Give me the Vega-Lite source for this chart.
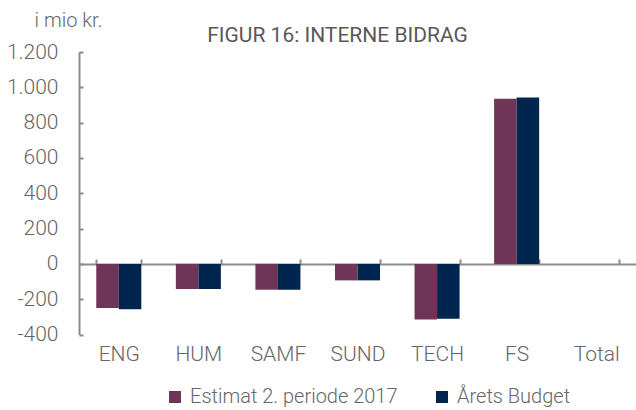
{
  "$schema": "https://vega.github.io/schema/vega-lite/v6.json",
  "autosize": "none",
  "width": 557,
  "height": 282.6,
  "padding": {"left": 79, "top": 52, "right": 0, "bottom": 75.4},
  "background": "white",
  "config": {
    "locale": {"number": {"decimal": ",", "thousands": ".", "grouping": [3], "currency": ["", " kr."], "minus": "-"}},
    "font": "Roboto",
    "view": {"stroke": null}
  },
  "title": {
    "text": "FIGUR 16: INTERNE BIDRAG",
    "font": "Roboto",
    "fontSize": 21,
    "fontWeight": 400,
    "color": "#595959",
    "anchor": "middle",
    "dx": -20,
    "offset": -36
  },
  "data": {
    "values": [
      {"enhed": "ENG", "serie": "Estimat 2. periode 2017", "vaerdi": -250},
      {"enhed": "ENG", "serie": "Årets Budget", "vaerdi": -257},
      {"enhed": "HUM", "serie": "Estimat 2. periode 2017", "vaerdi": -142},
      {"enhed": "HUM", "serie": "Årets Budget", "vaerdi": -142},
      {"enhed": "SAMF", "serie": "Estimat 2. periode 2017", "vaerdi": -146},
      {"enhed": "SAMF", "serie": "Årets Budget", "vaerdi": -146},
      {"enhed": "SUND", "serie": "Estimat 2. periode 2017", "vaerdi": -93},
      {"enhed": "SUND", "serie": "Årets Budget", "vaerdi": -93},
      {"enhed": "TECH", "serie": "Estimat 2. periode 2017", "vaerdi": -315},
      {"enhed": "TECH", "serie": "Årets Budget", "vaerdi": -310},
      {"enhed": "FS", "serie": "Estimat 2. periode 2017", "vaerdi": 936},
      {"enhed": "FS", "serie": "Årets Budget", "vaerdi": 943}
    ]
  },
  "mark": {"type": "bar"},
  "encoding": {
    "x": {
      "field": "enhed",
      "type": "nominal",
      "sort": null,
      "scale": {"domain": ["ENG", "HUM", "SAMF", "SUND", "TECH", "FS", "Total"], "paddingInner": 0.434, "paddingOuter": 0.217},
      "axis": {
        "title": null,
        "labelAngle": 0,
        "orient": "bottom",
        "offset": -70.6,
        "domainColor": "#8c8c8c",
        "domainWidth": 2,
        "tickColor": "#8c8c8c",
        "tickWidth": 2,
        "tickSize": -5,
        "tickBand": "extent",
        "labelPadding": 84,
        "labelFont": "Roboto",
        "labelFontSize": 21,
        "labelColor": "#666666",
        "labelFontWeight": 300
      }
    },
    "xOffset": {
      "field": "serie",
      "type": "nominal",
      "sort": ["Estimat 2. periode 2017", "Årets Budget"],
      "scale": {"paddingInner": 0, "paddingOuter": 0}
    },
    "y": {
      "field": "vaerdi",
      "type": "quantitative",
      "scale": {"domain": [-400, 1200], "nice": false, "zero": false},
      "axis": {
        "values": [-400, -200, 0, 200, 400, 600, 800, 1000, 1200],
        "format": ",d",
        "grid": false,
        "domainColor": "#8c8c8c",
        "domainWidth": 2,
        "tickColor": "#8c8c8c",
        "tickWidth": 2,
        "tickSize": -4,
        "labelPadding": 25,
        "labelFont": "Roboto",
        "labelFontSize": 21,
        "labelColor": "#666666",
        "labelFontWeight": 300,
        "title": "i mio kr.",
        "titleAngle": 0,
        "titleX": -11,
        "titleY": -32,
        "titleAlign": "center",
        "titleBaseline": "middle",
        "titleFont": "Roboto",
        "titleFontSize": 20,
        "titleFontWeight": 300,
        "titleColor": "#666666"
      }
    },
    "color": {
      "field": "serie",
      "type": "nominal",
      "sort": ["Estimat 2. periode 2017", "Årets Budget"],
      "scale": {"domain": ["Estimat 2. periode 2017", "Årets Budget"], "range": ["#6e3556", "#002650"]},
      "legend": {
        "title": null,
        "orient": "none",
        "legendX": 86,
        "legendY": 335,
        "direction": "horizontal",
        "symbolType": "square",
        "symbolSize": 144,
        "symbolStrokeWidth": 0,
        "labelFont": "Roboto",
        "labelFontSize": 20,
        "labelColor": "#666666",
        "labelFontWeight": 300,
        "labelLimit": 400,
        "labelOffset": 5,
        "columnPadding": 34
      }
    }
  }
}
